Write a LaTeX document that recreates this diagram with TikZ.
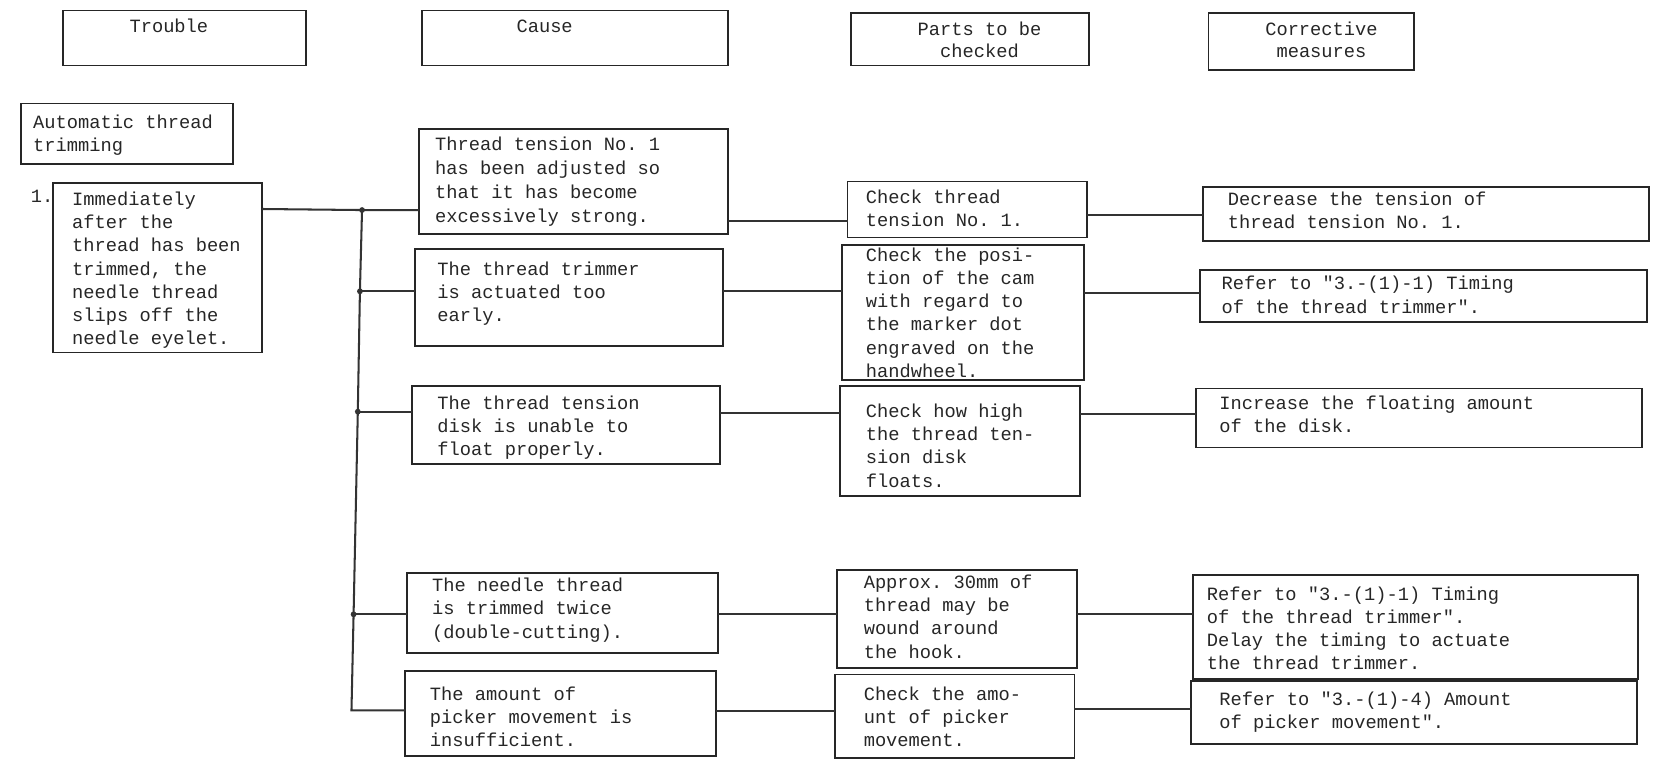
\documentclass[tikz,border=0pt]{standalone}
\usepackage{fontspec}
\setmonofont{Liberation Mono}
\usetikzlibrary{fit}
% fixed first-line height so text nodes line up by their first baseline
\newcommand\fstrut{\rule{0pt}{1em}}
\begin{document}
\begin{tikzpicture}[x=0.02cm, y=-0.02cm,
  box/.style={draw=black!85, line width=1pt, inner sep=0pt, outer sep=0pt},
  txt/.style={anchor=north west, yshift=0.249cm, inner sep=0pt, align=left,
    font=\ttfamily\fontsize{10.1}{12.5}\selectfont, text=black!85},
  head/.style={txt, anchor=north, align=center,
    font=\ttfamily\fontsize{10.1}{11.8}\selectfont},
  wire/.style={draw=black!80, line width=1.1pt},
  jdot/.style={circle, fill=black!80, inner sep=0pt, minimum size=0.11cm}]
\useasboundingbox (0,0) rectangle (1568,721);

% column headers
\node[box, fit={(60,10)(290,62)}]    (h1) {};
\node[box, fit={(400,10)(690,62)}]   (h2) {};
\node[box, fit={(806,12)(1032,62)}]  (h3) {};
\node[box, fit={(1145,12)(1340,66)}] (h4) {};
\node[head] (th1) at (160,25)  {\fstrut Trouble};
\node[head] (th2) at (516,25)  {\fstrut Cause};
\node[head] (th3) at (928,28)  {\fstrut Parts to be\\checked};
\node[head] (th4) at (1252,28) {\fstrut Corrective\\measures};

% section title and trouble
\node[box, fit={(20,98)(221,155)}] (sec) {};
\node[txt] (tsec) at (31,116) {\fstrut Automatic thread\\trimming};
\node[txt] (num) at (29,186) {\fstrut 1.};
\node[box, fit={(50,173)(248,334)}] (tr) {};
\node[txt] (ttr) at (68,189) {\fstrut Immediately\\after the\\thread has been\\trimmed, the\\needle thread\\slips off the\\needle eyelet.};

% causes
\node[box, fit={(397,122)(690,222)}] (c1) {};
\node[box, fit={(393,236)(685,328)}] (c2) {};
\node[box, fit={(390,366)(682,440)}] (c3) {};
\node[box, fit={(386,543)(680,619)}] (c4) {};
\node[box, fit={(384,636)(678,716)}] (c5) {};
\node[txt, font=\ttfamily\fontsize{10.1}{13}\selectfont] (tc1) at (412,137) {\fstrut Thread tension No. 1\\has been adjusted so\\that it has become\\excessively strong.};
\node[txt] (tc2) at (414,255) {\fstrut The thread trimmer\\is actuated too\\early.};
\node[txt] (tc3) at (414,382) {\fstrut The thread tension\\disk is unable to\\float properly.};
\node[txt] (tc4) at (409,555) {\fstrut The needle thread\\is trimmed twice\\(double-cutting).};
\node[txt] (tc5) at (407,658) {\fstrut The amount of\\picker movement is\\insufficient.};

% parts to be checked
\node[box, fit={(803,172)(1030,225)}] (p1) {};
\node[box, fit={(798,232)(1027,360)}] (p2) {};
\node[box, fit={(796,366)(1023,470)}] (p3) {};
\node[box, fit={(793,540)(1020,633)}] (p4) {};
\node[box, fit={(791,639)(1018,718)}] (p5) {};
\node[txt] (tp1) at (820,187) {\fstrut Check thread\\tension No. 1.};
\node[txt] (tp2) at (820,242) {\fstrut Check the posi-\\tion of the cam\\with regard to\\the marker dot\\engraved on the\\handwheel.};
\node[txt] (tp3) at (820,390) {\fstrut Check how high\\the thread ten-\\sion disk\\floats.};
\node[txt] (tp4) at (818,552) {\fstrut Approx. 30mm of\\thread may be\\wound around\\the hook.};
\node[txt] (tp5) at (818,658) {\fstrut Check the amo-\\unt of picker\\movement.};

% corrective measures
\node[box, fit={(1140,177)(1562,228)}] (r1) {};
\node[box, fit={(1137,256)(1560,305)}] (r2) {};
\node[box, fit={(1133,368)(1556,424)}] (r3) {};
\node[box, fit={(1130,545)(1552,643)}] (r4) {};
\node[box, fit={(1128,645)(1551,705)}] (r5) {};
\node[txt] (tr1) at (1163,189) {\fstrut Decrease the tension of\\thread tension No. 1.};
\node[txt] (tr2) at (1157,269) {\fstrut Refer to "3.-(1)-1) Timing\\of the thread trimmer".};
\node[txt] (tr3) at (1155,382) {\fstrut Increase the floating amount\\of the disk.};
\node[txt] (tr4) at (1143,563) {\fstrut Refer to "3.-(1)-1) Timing\\of the thread trimmer".\\Delay the timing to actuate\\the thread trimmer.};
\node[txt] (tr5) at (1155,663) {\fstrut Refer to "3.-(1)-4) Amount\\of picker movement".};

% branching bus from the trouble to its causes
\coordinate (j1) at (343,199);
\coordinate (j2) at (341,276);
\coordinate (j3) at (339,390);
\coordinate (j4) at (335,582);
\coordinate (j5) at (333,673);
\draw[wire] (tr.east |- 0,198) -- (j1) -- (c1.west |- j1);
\draw[wire] (j1) -- (j2) -- (j3) -- (j4) -- (j5) -- (c5.west |- j5);
\draw[wire] (j2) -- (c2.west |- j2);
\draw[wire] (j3) -- (c3.west |- j3);
\draw[wire] (j4) -- (c4.west |- j4);
\foreach \j in {j1,j2,j3,j4} \node[jdot] at (\j) {};

% cause -> part -> measure
\draw[wire] (c1.east |- 0,209.5) -- (p1.west |- 0,209.5);
\draw[wire] (p1.east |- 0,203.5) -- (r1.west |- 0,203.5);
\draw[wire] (c2.east |- 0,276) -- (p2.west |- 0,276);
\draw[wire] (p2.east |- 0,278) -- (r2.west |- 0,278);
\draw[wire] (c3.east |- 0,391.5) -- (p3.west |- 0,391.5);
\draw[wire] (p3.east |- 0,392) -- (r3.west |- 0,392);
\draw[wire] (c4.east |- 0,582) -- (p4.west |- 0,582);
\draw[wire] (p4.east |- 0,582) -- (r4.west |- 0,582);
\draw[wire] (c5.east |- 0,673.5) -- (p5.west |- 0,673.5);
\draw[wire] (p5.east |- 0,672) -- (r5.west |- 0,672);
\end{tikzpicture}
\end{document}
